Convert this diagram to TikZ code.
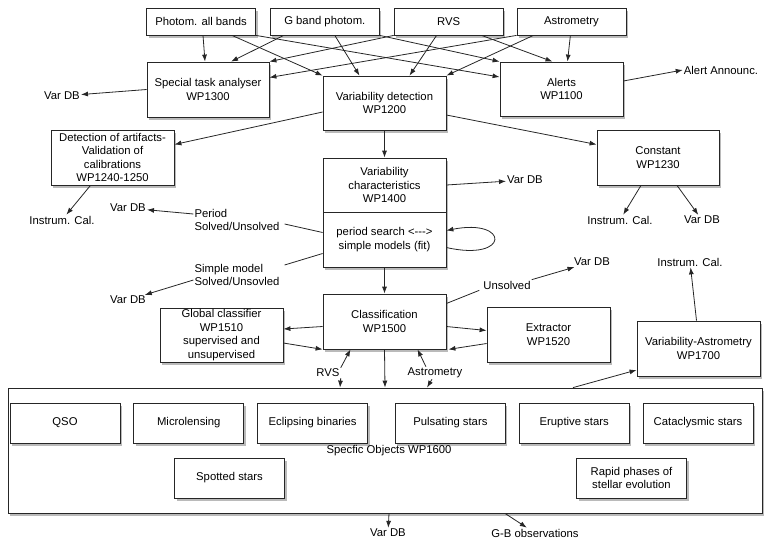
\documentclass[tikz,border=0pt]{standalone}
\usepackage{fontspec}
\setmainfont{Liberation Sans}
\usetikzlibrary{arrows.meta,positioning,shadows}

\begin{document}
\begin{tikzpicture}[
    x=1pt, y=-1pt,
    font=\fontsize{11.3}{13.5}\selectfont,
    box/.style={rectangle, draw=black!85, fill=white, line width=0.8pt, minimum width=123pt, minimum height=55pt, align=center, inner sep=1pt, drop shadow={opacity=0.45, fill=black!60, shadow xshift=2pt, shadow yshift=-2.5pt}},
    src/.style={box, minimum width=109pt, minimum height=27pt},
    obj/.style={box, minimum width=110pt, minimum height=40pt},
    lbl/.style={inner sep=1pt, align=left},
    arr/.style={-{Latex[length=7pt,width=5pt]}, line width=0.8pt, black!85},
    ln/.style={line width=0.8pt, black!85},
]
\useasboundingbox (0,0) rectangle (771,541);
% Data sources
\node[src] (photom) at (201,21.5) {Photom. all bands};
\node[src, right=14pt of photom] (gband) {G band photom.};
\node[src, right=14pt of gband] (rvs) {RVS};
\node[src, right=13pt of rvs] (astro) {Astrometry};
% Second row
\node[box, minimum width=122pt] (special) at (208,89.5) {Special task analyser\\WP1300};
\node[box, minimum height=54pt] (vardet) at (384.5,103) {Variability detection\\WP1200};
\node[box, minimum height=54pt] (alerts) at (561.5,89) {Alerts\\WP1100};
\node[lbl] (dbSpecial) at (62,96) {Var DB};
\node[lbl] (announce) at (721,70) {Alert Announc.};
% Artifacts and constant
\node[box] (detect) at (112.5,157.5) {Detection of artifacts-\\Validation of\\calibrations\\WP1240-1250};
\node[box, minimum width=122pt] (constant) at (658,157.5) {Constant\\WP1230};
\node[lbl] (calDetect) at (62,220) {Instrum. Cal.};
\node[lbl] (calConst) at (620,220) {Instrum. Cal.};
\node[lbl] (dbConst) at (702,220) {Var DB};
% Characteristics
\node[box, minimum height=54pt] (chartop) at (384.5,185) {Variability\\characteristics\\WP1400};
\node[box] (charbot) at (384.5,239.5) {period search <{-}{-}{-}>\\simple models (fit)};
\node[lbl] (dbChar) at (525,180) {Var DB};
\node[lbl] (period) at (237,220) {Period\\Solved/Unsolved};
\node[lbl] (dbPeriod) at (128,208) {Var DB};
\node[lbl] (simple) at (237,275) {Simple model\\Solved/Unsovled};
\node[lbl] (dbSimple) at (128,300) {Var DB};
% Classification
\node[box] (class) at (384.5,321.5) {Classification\\WP1500};
\node[box, minimum height=54pt] (global) at (221.5,335) {Global classifier\\WP1510\\supervised and\\unsupervised};
\node[box] (extract) at (548.5,334.5) {Extractor\\WP1520};
\node[box] (varast) at (698.5,348.5) {Variability-Astrometry\\WP1700};
\node[lbl] (unsolved) at (507,285) {Unsolved};
\node[lbl] (dbClass) at (592,262) {Var DB};
\node[lbl] (calVarAst) at (690,262) {Instrum. Cal.};
\node[lbl] (rvsIn) at (328,373) {RVS};
\node[lbl] (astroIn) at (435,373) {Astrometry};
% Specific objects
\node[box, minimum width=754pt, minimum height=125pt] (objects) at (385,450.5) {};
\node[obj] (qso) at (65,423) {QSO};
\node[obj, right=13pt of qso] (micro) {Microlensing};
\node[obj, right=13pt of micro] (eclip) {Eclipsing binaries};
\node[obj, right=27pt of eclip] (pulsat) {Pulsating stars};
\node[obj, right=13pt of pulsat] (erupt) {Eruptive stars};
\node[obj, right=13pt of erupt] (catacl) {Cataclysmic stars};
\node[obj] (spotted) at (229.5,478) {Spotted stars};
\node[obj] (rapid) at (631.5,478) {Rapid phases of\\stellar evolution};
\node[lbl] (objTitle) at (389,451) {Specfic Objects WP1600};
\node[lbl] (dbObj) at (388,533) {Var DB};
\node[lbl] (gbObs) at (535,533) {G-B observations};

% Arrows from the sources
\draw[arr] ([xshift=2pt]photom.south) -- ([xshift=-3pt]special.north);
\draw[arr] ([xshift=31pt]photom.south) -- (vardet.north west);
\draw[arr] (photom.south east) -- ([yshift=12pt]alerts.west);
\draw[arr] ([xshift=-41pt]gband.south) -- ([xshift=23pt]special.north);
\draw[arr] ([xshift=10pt]gband.south) -- ([xshift=-25pt]vardet.north);
\draw[arr] (gband.south east) -- (alerts.north west);
\draw[arr] (rvs.south west) -- (special.north east);
\draw[arr] ([xshift=-12pt]rvs.south) -- ([xshift=25pt]vardet.north);
\draw[arr] ([xshift=33pt]rvs.south) -- ([xshift=-9pt]alerts.north);
\draw[arr] (astro.south west) -- ([yshift=12pt]special.east);
\draw[arr] ([xshift=-38pt]astro.south) -- (vardet.north east);
\draw[arr] ([xshift=-1pt]astro.south) -- ([xshift=6pt]alerts.north);
% Second row outputs
\draw[arr] (special.west) -- (dbSpecial);
\draw[arr] ([yshift=8pt]alerts.east) -- (announce.west);
\draw[arr] ([yshift=-9pt]vardet.west) -- ([yshift=13pt]detect.east);
\draw[arr] ([yshift=-12pt]vardet.east) -- ([yshift=13pt]constant.west);
\draw[arr] ([xshift=-22pt]detect.south) -- (calDetect);
\draw[arr] ([xshift=-17pt]constant.south) -- (calConst);
\draw[arr] ([xshift=19pt]constant.south) -- (dbConst);
% Characteristics
\draw[arr] (vardet.south) -- (chartop.north);
\draw[arr] (chartop.east) -- (dbChar);
\draw[arr] ([yshift=-8pt]charbot.east) .. controls (510,262) and (510,218) .. ([yshift=9pt]charbot.east);
\draw[ln] ([yshift=7pt]charbot.west) -- ([shift={(4pt,-4pt)}]period.east);
\draw[arr] ([yshift=6pt]period.west) -- (dbPeriod);
\draw[ln] ([yshift=-14pt]charbot.west) -- ([shift={(4pt,10pt)}]simple.east);
\draw[arr] ([yshift=-5pt]simple.west) -- (dbSimple);
\draw[arr] (charbot.south) -- (class.north);
% Classification
\draw[arr] ([yshift=-5pt]class.west) -- ([yshift=6pt]global.east);
\draw[arr] ([yshift=-8pt]global.east) -- (class.south west);
\draw[arr] ([yshift=-5pt]class.east) -- ([yshift=4pt]extract.west);
\draw[arr] ([yshift=-9pt]extract.west) -- ([xshift=2pt]class.south east);
\draw[ln] ([yshift=18pt]class.east) -- ([xshift=-3pt]unsolved.south west);
\draw[arr] (unsolved.north east) -- (dbClass);
\draw[arr] (rvsIn.north east) -- ([xshift=-34pt]class.south);
\draw[arr] (rvsIn.south east) -- ([xshift=-45pt]objects.north);
\draw[arr] ([xshift=-9pt]astroIn.north) -- ([xshift=33pt]class.south);
\draw[arr] ([xshift=-3pt]astroIn.south) -- ([xshift=42pt]objects.north);
\draw[arr] (class.south) -- (objects.north);
\draw[arr] ([xshift=188pt]objects.north) -- ([yshift=-21.5pt]varast.west);
\draw[arr] ([xshift=-2pt]varast.north) -- (calVarAst);
% Outputs of specific objects
\draw[arr] ([xshift=4pt]objects.south) -- (dbObj);
\draw[arr] ([xshift=120pt]objects.south) -- (gbObs);
\end{tikzpicture}
\end{document}
